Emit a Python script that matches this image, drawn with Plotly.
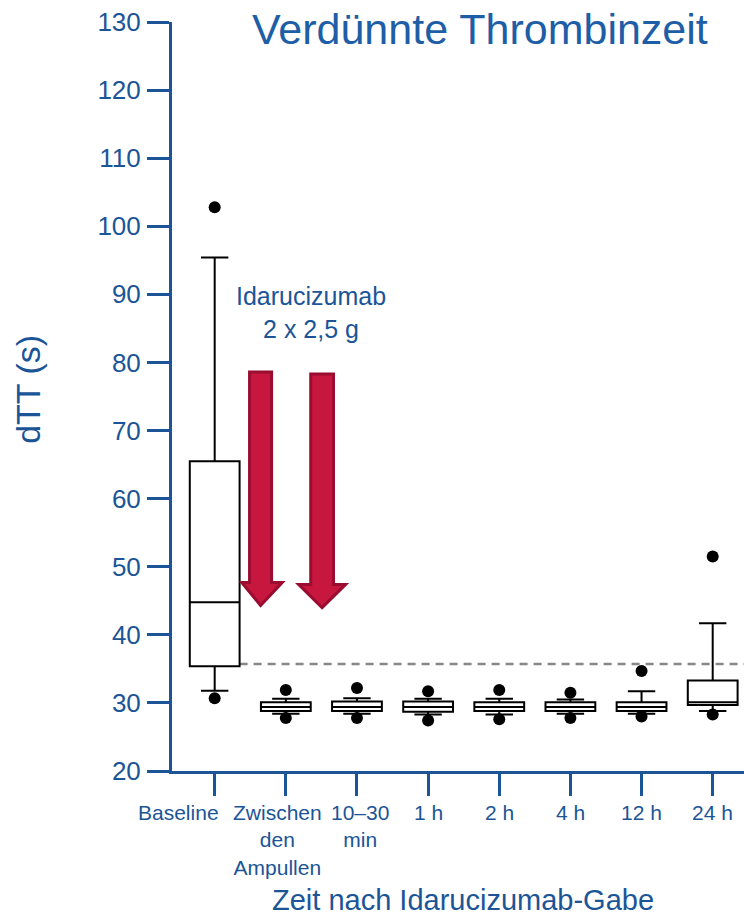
import plotly.graph_objects as go

# ---- data ----
categories = ["Baseline", "Zwischen<br>den<br>Ampullen", "10–30<br>min", "1 h", "2 h", "4 h", "12 h", "24 h"]
positions = [0, 1, 2, 3, 4, 5, 6, 7]
lower_fence = [31.8, 28.4, 28.4, 28.3, 28.3, 28.4, 28.4, 28.8]
q1 = [35.4, 28.8, 28.8, 28.7, 28.8, 28.8, 28.8, 29.7]
median = [44.8, 29.4, 29.4, 29.4, 29.4, 29.4, 29.4, 30.1]
q3 = [65.5, 30.1, 30.2, 30.2, 30.1, 30.1, 30.1, 33.3]
upper_fence = [95.4, 30.6, 30.7, 30.6, 30.6, 30.5, 31.7, 41.7]
outlier_x = [0, 0, 1, 1, 2, 2, 3, 3, 4, 4, 5, 5, 6, 6, 7, 7]
outlier_y = [102.8, 30.7, 31.9, 27.8, 32.2, 27.8, 31.7, 27.4, 31.9, 27.6, 31.5, 27.8, 34.7, 28.0, 51.5, 28.3]
reference_level = 35.7
y_ticks = [20, 30, 40, 50, 60, 70, 80, 90, 100, 110, 120, 130]

# label pixel offsets (layout only)
label_xshift = [-36, -8, 3, 0, 0, 0, 0, 0]

BLUE = "#1B5597"
TITLE_BLUE = "#1E5EA6"
FONT = "Arial, Liberation Sans, sans-serif"

fig = go.Figure()
fig.add_trace(go.Box(
    x=positions, q1=q1, median=median, q3=q3,
    lowerfence=lower_fence, upperfence=upper_fence,
    width=0.7, whiskerwidth=0.55,
    fillcolor="white", line=dict(color="black", width=2),
    boxpoints=False, showlegend=False, hoverinfo="skip",
))
fig.add_trace(go.Scatter(
    x=outlier_x, y=outlier_y, mode="markers",
    marker=dict(color="black", size=12), showlegend=False, hoverinfo="skip",
))

# dashed reference line
fig.add_shape(type="line", xref="x", yref="y", x0=0.35, x1=7.44,
              y0=reference_level, y1=reference_level,
              line=dict(color="#888888", width=2.5, dash="8px,6px"), layer="below")

# red arrows
def arrow_path(xl, xr, top, head_y, hl, hr, tip_x, tip_y):
    return (f"M {xl},{top} L {xr},{top} L {xr},{head_y} L {hr},{head_y} "
            f"L {tip_x},{tip_y} L {hl},{head_y} L {xl},{head_y} Z")

for a in [(0.49, 0.80, 78.6, 47.7, 0.38, 0.95, 0.645, 44.3),
          (1.35, 1.67, 78.3, 47.4, 1.18, 1.84, 1.51, 44.0)]:
    fig.add_shape(type="path", xref="x", yref="y", path=arrow_path(*a),
                  fillcolor="#C8173F", line=dict(color="#9A0D31", width=3), layer="above")

annotations = [
    dict(text="Verdünnte Thrombinzeit", xref="paper", yref="y", x=0.538, y=129.0,
         showarrow=False, font=dict(size=43, color=TITLE_BLUE, family=FONT),
         xanchor="center", yanchor="middle"),
    dict(text="Idarucizumab<br>2 x 2,5 g", xref="x", yref="y", x=1.36, y=87.3,
         showarrow=False, font=dict(size=25, color=BLUE, family=FONT),
         xanchor="center", yanchor="middle", align="center"),
    dict(text="dTT (s)", xref="paper", yref="paper", x=-0.252, y=0.51,
         textangle=-90, showarrow=False, font=dict(size=34, color=BLUE, family=FONT),
         xanchor="center", yanchor="middle"),
    dict(text="Zeit nach Idarucizumab-Gabe", xref="paper", yref="paper", x=0.508, y=-0.172,
         showarrow=False, font=dict(size=29, color=BLUE, family=FONT),
         xanchor="center", yanchor="middle"),
]
for pos, lab, dx in zip(positions, categories, label_xshift):
    annotations.append(dict(text=lab, xref="x", yref="paper", x=pos, y=-0.038,
                            xshift=dx, showarrow=False, align="center",
                            xanchor="center", yanchor="top",
                            font=dict(size=21, color=BLUE, family=FONT)))

fig.update_layout(
    width=744, height=917,
    margin=dict(l=172, r=0, t=22, b=146, autoexpand=False),
    paper_bgcolor="white", plot_bgcolor="white",
    annotations=annotations,
    font=dict(family=FONT, color=BLUE),
)
fig.update_xaxes(
    range=[-0.6, 7.44], tickmode="array", tickvals=positions, showticklabels=False,
    showline=True, linecolor=BLUE, linewidth=3, automargin=False,
    ticks="outside", ticklen=22, tickwidth=3, tickcolor=BLUE,
    showgrid=False, zeroline=False,
)
fig.update_yaxes(
    range=[20, 130], tickmode="array", tickvals=y_ticks, automargin=False,
    showline=True, linecolor=BLUE, linewidth=3,
    ticks="outside", ticklen=22, tickwidth=3, tickcolor=BLUE,
    tickfont=dict(size=26, color=BLUE, family=FONT),
    showgrid=False, zeroline=False, ticklabelstandoff=1, ticklabeloverflow="allow",
)

# remove the default page margin so the figure fills the window exactly
fig.write_html("out.html", config={"displayModeBar": False},
               post_script="document.body.style.margin='0';")
